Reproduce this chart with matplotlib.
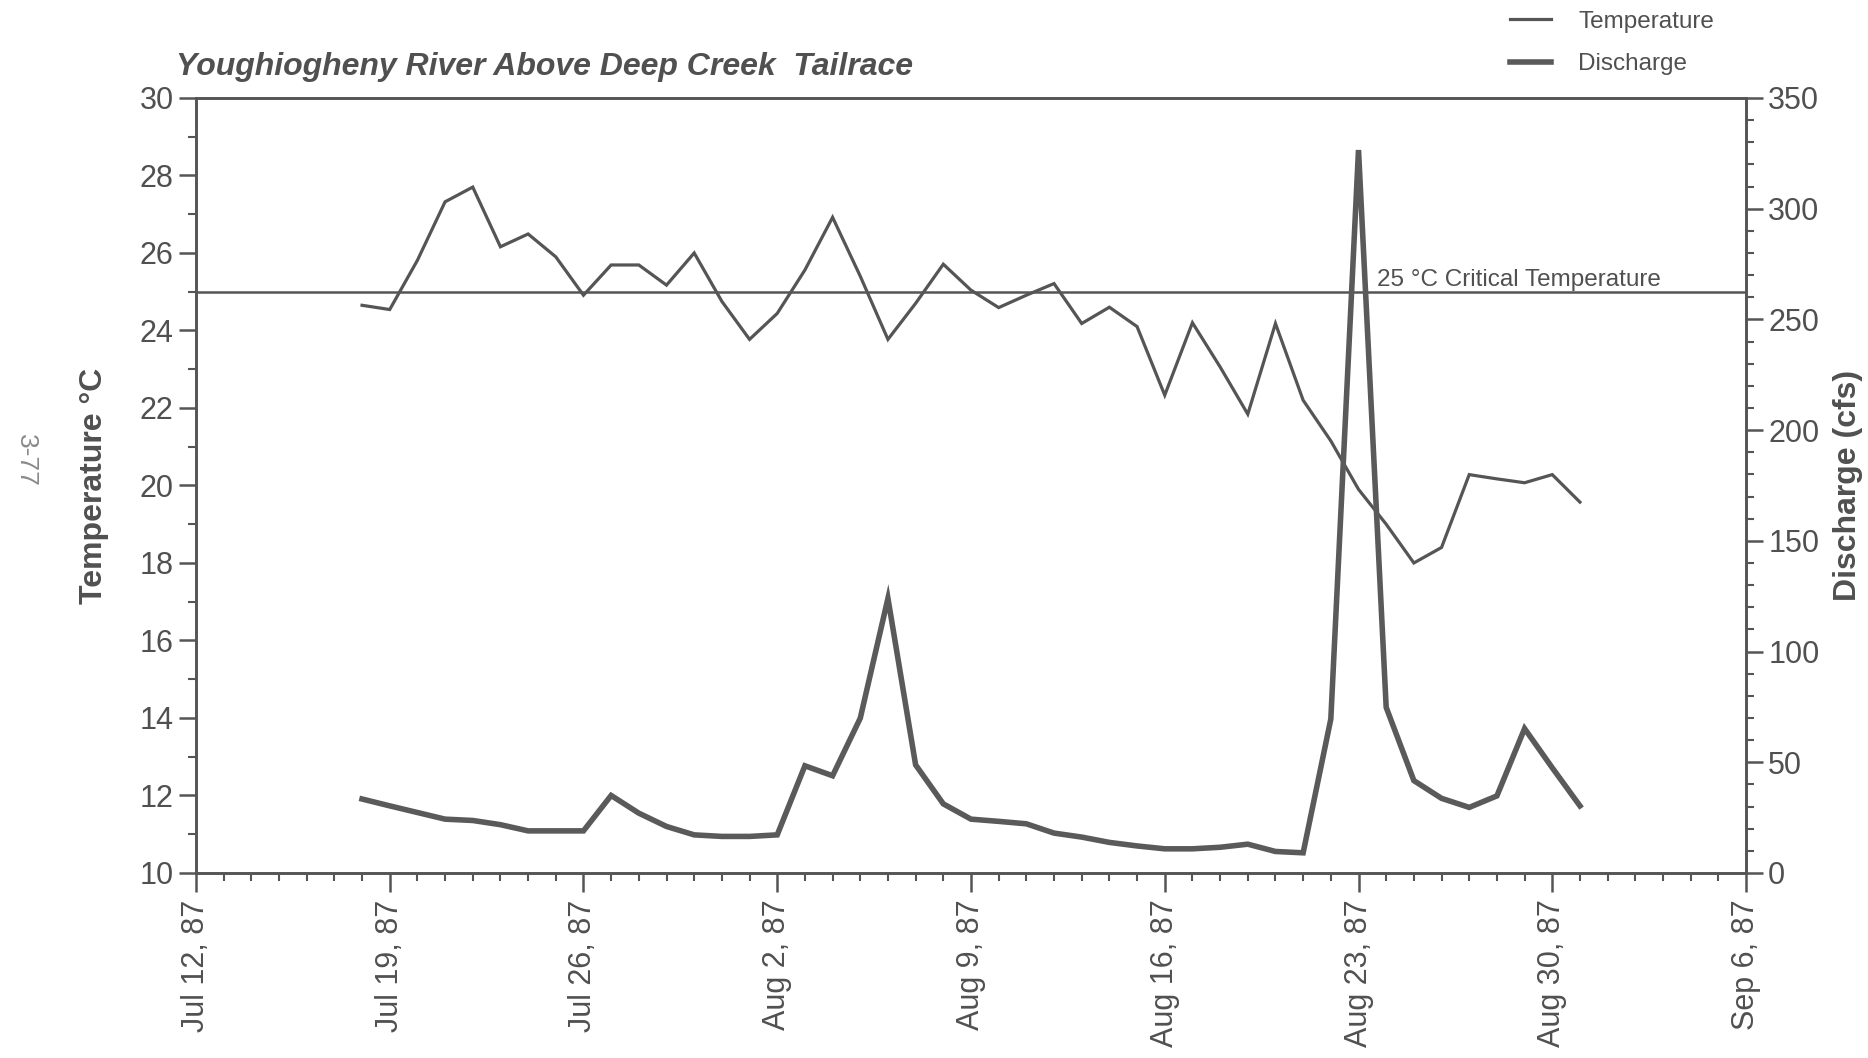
import matplotlib
matplotlib.use("Agg")
import matplotlib.pyplot as plt
import matplotlib.dates as mdates
from matplotlib.ticker import MultipleLocator
import pandas as pd

# ---------------- data ----------------
start_date = "1987-07-18"
temperature_c = [24.65, 24.54, 25.81, 27.32, 27.70, 26.16, 26.49, 25.90, 24.91, 25.69,
                 25.69, 25.17, 26.00, 24.75, 23.77, 24.44, 25.56, 26.92, 25.40, 23.77,
                 24.70, 25.71, 25.04, 24.59, 24.91, 25.21, 24.18, 24.60, 24.10, 22.33,
                 24.20, 23.06, 21.84, 24.18, 22.20, 21.15, 19.90, 19.00, 18.00, 18.40,
                 20.28, 20.17, 20.07, 20.28, 19.57]
discharge_cfs = [33.4, 30.3, 27.3, 24.3, 23.7, 21.8, 19.0, 19.0, 19.0, 35.0,
                 27.0, 21.0, 17.2, 16.5, 16.5, 17.2, 48.4, 43.9, 69.9, 124.0,
                 48.8, 31.2, 24.3, 23.3, 22.2, 18.0, 16.2, 13.8, 12.2, 10.9,
                 10.9, 11.6, 13.0, 9.7, 9.1, 69.5, 326.5, 74.8, 41.7, 33.7,
                 29.6, 34.8, 65.2, 47.5, 30.3]
dates = pd.date_range(start_date, periods=len(temperature_c), freq="D")

critical_temp = 25
tick_dates = pd.to_datetime(["1987-07-12", "1987-07-19", "1987-07-26", "1987-08-02",
                             "1987-08-09", "1987-08-16", "1987-08-23", "1987-08-30",
                             "1987-09-06"])
tick_labels = ["Jul 12, 87", "Jul 19, 87", "Jul 26, 87", "Aug 2, 87", "Aug 9, 87",
               "Aug 16, 87", "Aug 23, 87", "Aug 30, 87", "Sep 6, 87"]
temp_ticks = list(range(10, 31, 2))
discharge_ticks = list(range(0, 351, 50))

title = "Youghiogheny River Above Deep Creek  Tailrace"
critical_label = "25 \u00b0C Critical Temperature"

# ---------------- style ----------------
plt.rcParams["font.family"] = ["Liberation Sans", "DejaVu Sans"]
INK = "#505050"
LINE = "#555555"

fig = plt.figure(figsize=(18.68, 10.58), dpi=100)
ax = fig.add_axes([0.1049, 0.1749, 0.9347 - 0.1049, 0.9074 - 0.1749])
ax2 = ax.twinx()

# temperature + critical line
ax.axhline(critical_temp, color=LINE, lw=1.8, zorder=2)
ln_t, = ax.plot(dates, temperature_c, color=LINE, lw=2.3, label="Temperature",
                solid_joinstyle="miter", zorder=3)
ax.text(pd.Timestamp("1987-08-23 16:00"), critical_temp + 0.02, critical_label,
        fontsize=17.5, color=INK, va="bottom", ha="left")

# discharge
ln_q, = ax2.plot(dates, discharge_cfs, color="#5a5a5a", lw=4.0, label="Discharge",
                 solid_joinstyle="miter", zorder=3)

# axes limits / ticks
ax.set_xlim(tick_dates[0], tick_dates[-1])
ax.set_ylim(10, 30)
ax2.set_ylim(0, 350)
ax.set_xticks(tick_dates)
ax.set_xticklabels(tick_labels, rotation=90)
ax.xaxis.set_minor_locator(mdates.DayLocator())
ax.set_yticks(temp_ticks)
ax.yaxis.set_minor_locator(MultipleLocator(1))
ax2.set_yticks(discharge_ticks)
ax2.yaxis.set_minor_locator(MultipleLocator(10))

for a in (ax, ax2):
    for s in a.spines.values():
        s.set_color(LINE)
        s.set_linewidth(1.9)
    a.tick_params(which="major", length=12, width=1.8, color=LINE,
                  labelsize=22, labelcolor=INK, pad=4, direction="out")
    a.tick_params(which="minor", length=6, width=1.5, color=LINE, direction="out")
ax.tick_params(axis="x", which="major", length=14, pad=5)
ax.tick_params(axis="y", which="both", right=False)
ax2.tick_params(axis="y", which="both", left=False)

ax.set_ylabel("Temperature \u00b0C", fontsize=23, fontweight="bold", color=INK, labelpad=22)
ax2.set_ylabel("Discharge (cfs)", fontsize=23, fontweight="bold", color=INK, labelpad=10)

# title
fig.text(176 / 1868, 1 - 75 / 1058, title, fontsize=23, fontweight="bold",
         fontstyle="italic", color=INK, ha="left", va="baseline")

# page number (rotated)
fig.text(26 / 1868, 1 - 460 / 1058, "3-77", fontsize=19, color="#8a8a8a",
         rotation=-90, ha="center", va="center")

# legend
leg = fig.legend(handles=[ln_t, ln_q], loc="center",
                 bbox_to_anchor=(1612 / 1868, 1 - 43 / 1058), frameon=False,
                 fontsize=17.5, labelcolor=INK, handlelength=1.7, handletextpad=1.1,
                 labelspacing=0.85)

fig.savefig("out.png", dpi=100)
